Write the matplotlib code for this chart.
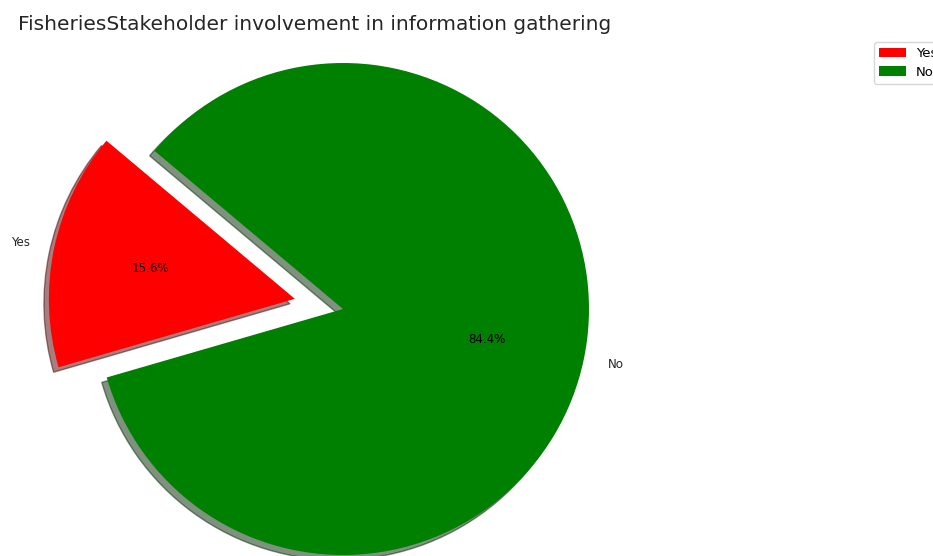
import matplotlib.pyplot as plt

# Risposte sul coinvolgimento degli stakeholder
labels = ["Yes", "No"]
shares = [15.6, 84.4]
colors = ["red", "green"]
explode = (0.2, 0)

DPI = 100

fig = plt.figure(figsize=(9.33, 5.56), dpi=DPI)

# Assi quadrati: raggio della torta ~246 px, centro in (343, 309)
ax = fig.add_axes([35.5 / 933, (556 - 616.5) / 556, 615 / 933, 615 / 556])

# l'ombra viene scalata di dpi/72, quindi si compensa
off = -0.02 * 72 / DPI
wedges, texts, autotexts = ax.pie(
    shares,
    labels=labels,
    colors=colors,
    explode=explode,
    autopct="%1.1f%%",
    shadow={"ox": off, "oy": off},
    startangle=140,
    textprops={"fontsize": 8.6},
)
for t in texts:
    t.set_color("#262626")
ax.axis("equal")
ax.set_xlim(-1.25, 1.25)
ax.set_ylim(-1.25, 1.25)

fig.text(18 / 933, 1 - 24 / 556, "FisheriesStakeholder involvement in information gathering",
         fontsize=14.5, ha="left", va="center", color="#262626")

fig.legend(wedges, labels, loc="upper left", bbox_to_anchor=(874 / 933, 1 - 42 / 556),
           fontsize=9.5, borderpad=0.4, labelspacing=0.4, borderaxespad=0)

plt.savefig("out.png", dpi=DPI)
